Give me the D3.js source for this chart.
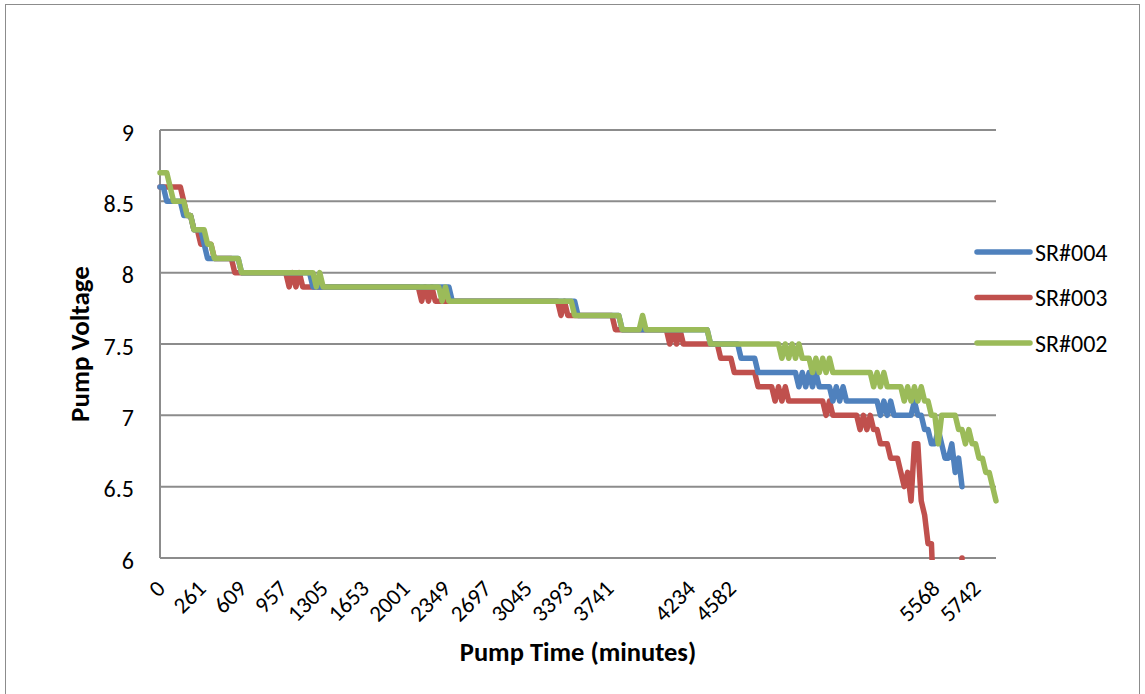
<!DOCTYPE html>
<html>
<head>
<meta charset="utf-8">
<script src="https://cdn.jsdelivr.net/npm/d3@7"></script>
<style>
  html, body { margin: 0; padding: 0; background: #ffffff; }
  svg text { font-family: Carlito, Calibri, Lato, "Open Sans", sans-serif; fill: #000; }
</style>
</head>
<body>
<svg id="chart" width="1145" height="694"></svg>
<script>
// ---------------- data ----------------
const seriesNames = ["SR#004", "SR#003", "SR#002"];
const seriesColors = ["#4F81BD", "#C0504D", "#9BBB59"];

// category-axis labels (one label every 12 rows; blanks are unlabeled rows)
const tickLabels = ["0","261","609","957","1305","1653","2001","2349","2697","3045","3393","3741",
                    "","4234","4582","","","","","5568","5742"];
const labelEvery = 12;

const yTicks = [6, 6.5, 7, 7.5, 8, 8.5, 9];

// SR#004 (blue)
const sr004 = [
  8.6,8.6,
  8.5,8.5,8.5,8.5,8.5,
  8.4,8.4,8.4,
  8.3,8.3,8.3,
  8.2,
  8.1,8.1,8.1,8.1,8.1,8.1,8.1,8.1,8.1,8.1,
  8.0,8.0,8.0,8.0,8.0,8.0,8.0,8.0,8.0,8.0,8.0,8.0,8.0,8.0,8.0,8.0,8.0,8.0,8.0,8.0,8.0,
  7.9,7.9,7.9,7.9,7.9,7.9,7.9,7.9,7.9,7.9,7.9,7.9,7.9,7.9,7.9,7.9,7.9,7.9,7.9,7.9,
  7.9,7.9,7.9,7.9,7.9,7.9,7.9,7.9,7.9,7.9,7.9,7.9,7.9,7.9,7.9,7.9,7.9,7.9,7.9,7.9,7.9,
  7.8,7.8,7.8,7.8,7.8,7.8,7.8,7.8,7.8,7.8,7.8,7.8,7.8,7.8,7.8,7.8,7.8,7.8,7.8,7.8,
  7.8,7.8,7.8,7.8,7.8,7.8,7.8,7.8,7.8,7.8,7.8,7.8,7.8,7.8,7.8,7.8,7.8,
  7.7,7.7,7.7,7.7,7.7,7.7,7.7,7.7,7.7,7.7,7.7,7.7,7.7,
  7.6,7.6,7.6,7.6,7.6,7.6,7.6,7.6,7.6,7.6,7.6,7.6,7.6,7.6,7.6,7.6,7.6,7.6,7.6,7.6,
  7.6,7.6,7.6,7.6,7.6,7.6,
  7.5,7.5,7.5,7.5,7.5,7.5,7.5,7.5,7.5,
  7.4,7.4,7.4,7.4,7.4,
  7.3,7.3,7.3,7.3,7.3,7.3,7.3,7.3,7.3,7.3,7.3,7.3,
  7.2,7.3,7.2,7.3,7.2,7.3,
  7.2,7.2,7.2,7.2,
  7.1,7.2,7.1,7.2,
  7.1,7.1,7.1,7.1,7.1,7.1,7.1,7.1,7.1,7.1,
  7.0,7.1,7.0,7.1,7.0,
  7.0,7.0,7.0,7.0,7.0,
  7.1,7.0,7.0,
  6.9,6.9,6.8,6.8,6.9,6.8,6.7,6.7,6.8,6.6,6.7,6.5,
  null,null,null,null,null,null,null,null,null,null
];

// SR#003 (red) - values under 6 run below the axis and are clipped
const sr003 = [
  8.6,8.6,8.6,8.6,8.6,8.6,8.6,
  8.5,
  8.4,8.4,
  8.3,8.3,
  8.2,8.2,8.2,8.2,
  8.1,8.1,8.1,8.1,8.1,8.1,
  8.0,8.0,8.0,8.0,8.0,8.0,8.0,8.0,8.0,8.0,8.0,8.0,8.0,8.0,8.0,8.0,
  7.9,8.0,7.9,8.0,
  7.9,7.9,7.9,7.9,7.9,7.9,7.9,7.9,7.9,7.9,7.9,7.9,7.9,7.9,7.9,7.9,7.9,7.9,7.9,7.9,
  7.9,7.9,7.9,7.9,7.9,7.9,7.9,7.9,7.9,7.9,7.9,7.9,7.9,7.9,7.9,
  7.8,7.9,7.8,7.9,
  7.8,7.8,7.8,7.8,7.8,7.8,7.8,7.8,7.8,7.8,7.8,7.8,7.8,7.8,7.8,7.8,7.8,7.8,7.8,7.8,
  7.8,7.8,7.8,7.8,7.8,7.8,7.8,7.8,7.8,7.8,7.8,7.8,7.8,7.8,7.8,7.8,7.8,
  7.7,7.8,
  7.7,7.7,7.7,7.7,7.7,7.7,7.7,7.7,7.7,7.7,7.7,7.7,7.7,7.7,
  7.6,7.6,7.6,7.6,7.6,7.6,7.6,7.6,7.6,7.6,7.6,7.6,7.6,7.6,7.6,7.6,
  7.5,7.6,7.5,7.6,
  7.5,7.5,7.5,7.5,7.5,7.5,7.5,7.5,7.5,7.5,7.5,
  7.4,7.4,7.4,7.4,
  7.3,7.3,7.3,7.3,7.3,7.3,7.3,
  7.2,7.2,7.2,7.2,7.2,
  7.1,7.2,7.1,7.2,
  7.1,7.1,7.1,7.1,7.1,7.1,7.1,7.1,7.1,7.1,7.1,
  7.0,7.1,
  7.0,7.0,7.0,7.0,7.0,7.0,7.0,7.0,
  6.9,7.0,6.9,7.0,
  6.9,6.9,
  6.8,6.8,6.8,
  6.7,6.7,6.7,
  6.6,6.5,6.6,6.4,6.8,6.8,6.4,6.3,6.1,6.1,
  5.5,5.5,5.5,5.5,5.5,5.5,5.5,5.5,
  6.0,
  null,null,null,null,null,null,null,null,null,null
];

// SR#002 (green)
const sr002 = [
  8.7,8.7,8.7,
  8.6,
  8.5,8.5,8.5,8.5,
  8.4,8.4,
  8.3,8.3,8.3,8.3,
  8.2,8.2,
  8.1,8.1,8.1,8.1,8.1,8.1,8.1,8.1,
  8.0,8.0,8.0,8.0,8.0,8.0,8.0,8.0,8.0,8.0,8.0,8.0,8.0,8.0,8.0,8.0,8.0,8.0,8.0,8.0,8.0,8.0,
  7.9,8.0,
  7.9,7.9,7.9,7.9,7.9,7.9,7.9,7.9,7.9,7.9,7.9,7.9,7.9,7.9,7.9,7.9,7.9,7.9,7.9,7.9,
  7.9,7.9,7.9,7.9,7.9,7.9,7.9,7.9,7.9,7.9,7.9,7.9,7.9,7.9,7.9,
  7.8,7.9,
  7.8,7.8,7.8,7.8,7.8,7.8,7.8,7.8,7.8,7.8,7.8,7.8,7.8,7.8,7.8,7.8,7.8,7.8,7.8,7.8,
  7.8,7.8,7.8,7.8,7.8,7.8,7.8,7.8,7.8,7.8,7.8,7.8,7.8,7.8,7.8,7.8,7.8,
  7.7,7.7,7.7,7.7,7.7,7.7,7.7,7.7,7.7,7.7,7.7,7.7,7.7,7.7,
  7.6,7.6,7.6,7.6,7.6,7.6,
  7.7,
  7.6,7.6,7.6,7.6,7.6,7.6,7.6,7.6,7.6,7.6,7.6,7.6,7.6,7.6,7.6,7.6,7.6,7.6,7.6,
  7.5,7.5,7.5,7.5,7.5,7.5,7.5,7.5,7.5,7.5,7.5,7.5,7.5,7.5,7.5,7.5,7.5,7.5,7.5,7.5,7.5,
  7.4,7.5,7.4,7.5,7.4,7.5,
  7.4,7.4,7.4,
  7.3,7.4,7.3,7.4,7.3,7.4,
  7.3,7.3,7.3,7.3,7.3,7.3,7.3,7.3,7.3,7.3,7.3,7.3,
  7.2,7.3,7.2,7.3,
  7.2,7.2,7.2,7.2,
  7.2,7.1,7.2,7.1,7.2,7.1,7.2,
  7.1,7.1,7.0,7.0,6.8,7.0,7.0,7.0,7.0,7.0,6.9,6.9,6.8,6.9,6.8,6.8,6.7,6.7,6.6,6.6,6.5,6.4
];

const seriesValues = [sr004, sr003, sr002];

// ---------------- drawing ----------------
const svg = d3.select("#chart");
const plot = { left: 160, right: 996, top: 130, bottom: 558 };
const fontStack = "Carlito, Calibri, Lato, sans-serif";

const categoryCount = d3.max(seriesValues, s => s.length);
seriesValues.forEach((s, k) => {
  if (s.length !== categoryCount) console.error("length mismatch", seriesNames[k], s.length);
});

const x = d3.scalePoint()
  .domain(d3.range(categoryCount))
  .range([plot.left, plot.right])
  .padding(0);

const y = d3.scaleLinear().domain([6, 9]).range([plot.bottom, plot.top]);

// chart-area border
svg.append("rect")
  .attr("x", 5.5).attr("y", 4.5)
  .attr("width", 1134).attr("height", 700)
  .attr("fill", "none").attr("stroke", "#8c8c8c").attr("stroke-width", 1);

// horizontal gridlines
svg.append("g")
  .selectAll("line")
  .data(yTicks)
  .join("line")
  .attr("x1", plot.left).attr("x2", plot.right)
  .attr("y1", d => y(d)).attr("y2", d => y(d))
  .attr("stroke", "#8c8c8c").attr("stroke-width", 2);

// left axis line
svg.append("line")
  .attr("x1", plot.left).attr("x2", plot.left)
  .attr("y1", y(9)).attr("y2", y(6))
  .attr("stroke", "#8c8c8c").attr("stroke-width", 2);

// y-axis labels
const yAxis = d3.axisLeft(y)
  .tickValues(yTicks)
  .tickSize(0)
  .tickPadding(26)
  .tickFormat(d => (Number.isInteger(d) ? String(d) : d.toFixed(1)));
const gy = svg.append("g").attr("transform", `translate(${plot.left},0)`).call(yAxis);
gy.select(".domain").remove();
gy.selectAll("text")
  .attr("font-size", 24)
  .attr("dy", "0.42em")
  .style("font-family", fontStack);

// x-axis labels (category axis, one label per 12 rows)
const xTickIdx = tickLabels.map((_, k) => k * labelEvery);
const xAxis = d3.axisBottom(x)
  .tickValues(xTickIdx)
  .tickSize(0)
  .tickFormat(d => tickLabels[d / labelEvery]);
const gx = svg.append("g").attr("transform", `translate(0,${plot.bottom})`).call(xAxis);
gx.select(".domain").remove();
gx.selectAll(".tick text")
  .attr("font-size", 23)
  .attr("text-anchor", "end")
  .attr("y", 0).attr("dy", 0)
  .attr("transform", "translate(6,32) rotate(-45)")
  .style("font-family", fontStack);

// series lines
const clipId = "plotClip";
svg.append("clipPath").attr("id", clipId)
  .append("rect")
  .attr("x", plot.left - 10).attr("y", plot.top - 20)
  .attr("width", plot.right - plot.left + 20)
  .attr("height", plot.bottom - plot.top + 22);

const line = d3.line()
  .defined(d => d.v !== null)
  .x(d => x(d.i))
  .y(d => y(d.v));

const drawOrder = [1, 0, 2]; // red under blue, green on top
const gLines = svg.append("g").attr("clip-path", `url(#${clipId})`);
drawOrder.forEach(k => {
  const pts = seriesValues[k].map((v, i) => ({ i, v }));
  gLines.append("path")
    .datum(pts)
    .attr("d", line)
    .attr("fill", "none")
    .attr("stroke", seriesColors[k])
    .attr("stroke-width", 5.5)
    .attr("stroke-linejoin", "round")
    .attr("stroke-linecap", "round");
});

// legend
const legendY = [252, 297.5, 343];
const gLeg = svg.append("g");
seriesNames.forEach((name, k) => {
  gLeg.append("line")
    .attr("x1", 977).attr("x2", 1030)
    .attr("y1", legendY[k]).attr("y2", legendY[k])
    .attr("stroke", seriesColors[k]).attr("stroke-width", 5.5)
    .attr("stroke-linecap", "round");
  gLeg.append("text")
    .attr("x", 1035).attr("y", legendY[k])
    .attr("dy", "0.36em")
    .attr("font-size", 24)
    .text(name);
});

// axis titles
svg.append("text")
  .attr("x", (plot.left + plot.right) / 2)
  .attr("y", 661)
  .attr("text-anchor", "middle")
  .attr("font-size", 26.5)
  .attr("font-weight", "bold")
  .text("Pump Time (minutes)");

svg.append("text")
  .attr("transform", `translate(89,${(plot.top + plot.bottom) / 2}) rotate(-90)`)
  .attr("text-anchor", "middle")
  .attr("font-size", 27)
  .attr("font-weight", "bold")
  .text("Pump Voltage");
</script>
</body>
</html>
